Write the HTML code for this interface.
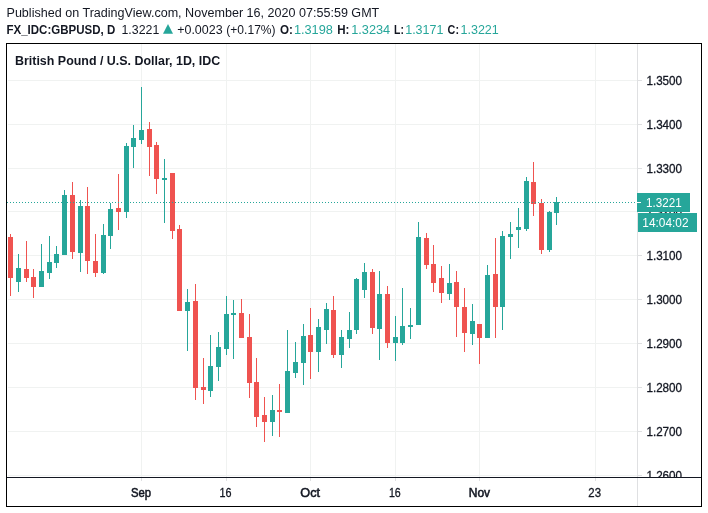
<!DOCTYPE html>
<html><head><meta charset="utf-8">
<style>
html,body{margin:0;padding:0;background:#fff;}
body{width:708px;height:513px;position:relative;overflow:hidden;}
svg{position:absolute;left:0;top:0;will-change:transform;font-family:"Liberation Sans",sans-serif;}
</style></head><body>
<svg width="708" height="513" viewBox="0 0 708 513">
<defs><clipPath id="pa"><rect x="638" y="44" width="63" height="433"/></clipPath>
<clipPath id="ta"><rect x="7" y="478" width="694" height="28"/></clipPath></defs>
<g shape-rendering="crispEdges">
<rect x="6.5" y="43.5" width="695" height="463" fill="none" stroke="#000" stroke-width="1"/>
<rect x="8" y="80" width="629" height="1" fill="#f0f2f1"/>
<rect x="8" y="124" width="629" height="1" fill="#f0f2f1"/>
<rect x="8" y="168" width="629" height="1" fill="#f0f2f1"/>
<rect x="8" y="211" width="629" height="1" fill="#f0f2f1"/>
<rect x="8" y="255" width="629" height="1" fill="#f0f2f1"/>
<rect x="8" y="299" width="629" height="1" fill="#f0f2f1"/>
<rect x="8" y="343" width="629" height="1" fill="#f0f2f1"/>
<rect x="8" y="387" width="629" height="1" fill="#f0f2f1"/>
<rect x="8" y="431" width="629" height="1" fill="#f0f2f1"/>
<rect x="8" y="475" width="629" height="1" fill="#f0f2f1"/>
<rect x="141" y="44" width="1" height="433" fill="#f0f2f1"/>
<rect x="226" y="44" width="1" height="433" fill="#f0f2f1"/>
<rect x="310" y="44" width="1" height="433" fill="#f0f2f1"/>
<rect x="395" y="44" width="1" height="433" fill="#f0f2f1"/>
<rect x="479" y="44" width="1" height="433" fill="#f0f2f1"/>
<rect x="595" y="44" width="1" height="433" fill="#f0f2f1"/>
<rect x="10" y="234" width="1" height="62" fill="#ef5350"/>
<rect x="8" y="237" width="5" height="41" fill="#ef5350"/>
<rect x="18" y="254" width="1" height="38" fill="#26a69a"/>
<rect x="16" y="268" width="5" height="14" fill="#26a69a"/>
<rect x="26" y="241" width="1" height="41" fill="#ef5350"/>
<rect x="24" y="269" width="5" height="9" fill="#ef5350"/>
<rect x="33" y="269" width="1" height="29" fill="#ef5350"/>
<rect x="31" y="277" width="5" height="10" fill="#ef5350"/>
<rect x="41" y="244" width="1" height="43" fill="#26a69a"/>
<rect x="39" y="271" width="5" height="16" fill="#26a69a"/>
<rect x="49" y="236" width="1" height="43" fill="#26a69a"/>
<rect x="47" y="262" width="5" height="11" fill="#26a69a"/>
<rect x="56" y="246" width="1" height="22" fill="#26a69a"/>
<rect x="54" y="254" width="5" height="9" fill="#26a69a"/>
<rect x="64" y="190" width="1" height="65" fill="#26a69a"/>
<rect x="62" y="195" width="5" height="60" fill="#26a69a"/>
<rect x="72" y="182" width="1" height="77" fill="#ef5350"/>
<rect x="70" y="195" width="5" height="57" fill="#ef5350"/>
<rect x="80" y="200" width="1" height="72" fill="#26a69a"/>
<rect x="78" y="206" width="5" height="47" fill="#26a69a"/>
<rect x="87" y="187" width="1" height="87" fill="#ef5350"/>
<rect x="85" y="206" width="5" height="55" fill="#ef5350"/>
<rect x="95" y="234" width="1" height="43" fill="#ef5350"/>
<rect x="93" y="261" width="5" height="12" fill="#ef5350"/>
<rect x="103" y="224" width="1" height="50" fill="#26a69a"/>
<rect x="101" y="235" width="5" height="38" fill="#26a69a"/>
<rect x="110" y="203" width="1" height="46" fill="#26a69a"/>
<rect x="108" y="209" width="5" height="27" fill="#26a69a"/>
<rect x="118" y="174" width="1" height="56" fill="#ef5350"/>
<rect x="116" y="208" width="5" height="4" fill="#ef5350"/>
<rect x="126" y="143" width="1" height="75" fill="#26a69a"/>
<rect x="124" y="146" width="5" height="66" fill="#26a69a"/>
<rect x="133" y="125" width="1" height="43" fill="#26a69a"/>
<rect x="131" y="138" width="5" height="9" fill="#26a69a"/>
<rect x="141" y="87" width="1" height="57" fill="#26a69a"/>
<rect x="139" y="130" width="5" height="10" fill="#26a69a"/>
<rect x="149" y="122" width="1" height="54" fill="#ef5350"/>
<rect x="147" y="129" width="5" height="18" fill="#ef5350"/>
<rect x="156" y="142" width="1" height="52" fill="#ef5350"/>
<rect x="154" y="145" width="5" height="34" fill="#ef5350"/>
<rect x="164" y="159" width="1" height="64" fill="#26a69a"/>
<rect x="162" y="178" width="5" height="2" fill="#26a69a"/>
<rect x="172" y="173" width="1" height="66" fill="#ef5350"/>
<rect x="170" y="173" width="5" height="58" fill="#ef5350"/>
<rect x="179" y="225" width="1" height="86" fill="#ef5350"/>
<rect x="177" y="229" width="5" height="82" fill="#ef5350"/>
<rect x="187" y="289" width="1" height="62" fill="#26a69a"/>
<rect x="185" y="302" width="5" height="9" fill="#26a69a"/>
<rect x="195" y="284" width="1" height="116" fill="#ef5350"/>
<rect x="193" y="301" width="5" height="87" fill="#ef5350"/>
<rect x="203" y="358" width="1" height="46" fill="#ef5350"/>
<rect x="201" y="387" width="5" height="3" fill="#ef5350"/>
<rect x="210" y="335" width="1" height="62" fill="#26a69a"/>
<rect x="208" y="366" width="5" height="25" fill="#26a69a"/>
<rect x="218" y="332" width="1" height="49" fill="#26a69a"/>
<rect x="216" y="347" width="5" height="20" fill="#26a69a"/>
<rect x="226" y="296" width="1" height="59" fill="#26a69a"/>
<rect x="224" y="314" width="5" height="35" fill="#26a69a"/>
<rect x="233" y="300" width="1" height="59" fill="#26a69a"/>
<rect x="231" y="313" width="5" height="2" fill="#26a69a"/>
<rect x="241" y="299" width="1" height="39" fill="#ef5350"/>
<rect x="239" y="313" width="5" height="25" fill="#ef5350"/>
<rect x="249" y="314" width="1" height="84" fill="#ef5350"/>
<rect x="247" y="337" width="5" height="46" fill="#ef5350"/>
<rect x="256" y="358" width="1" height="69" fill="#ef5350"/>
<rect x="254" y="382" width="5" height="35" fill="#ef5350"/>
<rect x="264" y="397" width="1" height="45" fill="#ef5350"/>
<rect x="262" y="415" width="5" height="7" fill="#ef5350"/>
<rect x="272" y="395" width="1" height="41" fill="#26a69a"/>
<rect x="270" y="410" width="5" height="12" fill="#26a69a"/>
<rect x="279" y="384" width="1" height="53" fill="#ef5350"/>
<rect x="277" y="410" width="5" height="2" fill="#ef5350"/>
<rect x="287" y="330" width="1" height="83" fill="#26a69a"/>
<rect x="285" y="371" width="5" height="42" fill="#26a69a"/>
<rect x="295" y="342" width="1" height="36" fill="#26a69a"/>
<rect x="293" y="362" width="5" height="11" fill="#26a69a"/>
<rect x="303" y="324" width="1" height="61" fill="#26a69a"/>
<rect x="301" y="336" width="5" height="27" fill="#26a69a"/>
<rect x="310" y="308" width="1" height="71" fill="#ef5350"/>
<rect x="308" y="335" width="5" height="17" fill="#ef5350"/>
<rect x="318" y="319" width="1" height="53" fill="#26a69a"/>
<rect x="316" y="327" width="5" height="25" fill="#26a69a"/>
<rect x="326" y="303" width="1" height="41" fill="#26a69a"/>
<rect x="324" y="309" width="5" height="21" fill="#26a69a"/>
<rect x="333" y="296" width="1" height="62" fill="#ef5350"/>
<rect x="331" y="310" width="5" height="45" fill="#ef5350"/>
<rect x="341" y="330" width="1" height="38" fill="#26a69a"/>
<rect x="339" y="337" width="5" height="18" fill="#26a69a"/>
<rect x="349" y="312" width="1" height="36" fill="#26a69a"/>
<rect x="347" y="330" width="5" height="9" fill="#26a69a"/>
<rect x="356" y="278" width="1" height="56" fill="#26a69a"/>
<rect x="354" y="279" width="5" height="51" fill="#26a69a"/>
<rect x="364" y="263" width="1" height="35" fill="#26a69a"/>
<rect x="362" y="272" width="5" height="18" fill="#26a69a"/>
<rect x="372" y="269" width="1" height="65" fill="#ef5350"/>
<rect x="370" y="272" width="5" height="56" fill="#ef5350"/>
<rect x="379" y="271" width="1" height="89" fill="#26a69a"/>
<rect x="377" y="294" width="5" height="35" fill="#26a69a"/>
<rect x="387" y="286" width="1" height="62" fill="#ef5350"/>
<rect x="385" y="294" width="5" height="49" fill="#ef5350"/>
<rect x="395" y="316" width="1" height="45" fill="#26a69a"/>
<rect x="393" y="337" width="5" height="6" fill="#26a69a"/>
<rect x="402" y="288" width="1" height="57" fill="#26a69a"/>
<rect x="400" y="326" width="5" height="17" fill="#26a69a"/>
<rect x="410" y="308" width="1" height="31" fill="#26a69a"/>
<rect x="408" y="325" width="5" height="2" fill="#26a69a"/>
<rect x="418" y="222" width="1" height="103" fill="#26a69a"/>
<rect x="416" y="237" width="5" height="88" fill="#26a69a"/>
<rect x="426" y="233" width="1" height="36" fill="#ef5350"/>
<rect x="424" y="238" width="5" height="27" fill="#ef5350"/>
<rect x="433" y="245" width="1" height="47" fill="#ef5350"/>
<rect x="431" y="264" width="5" height="19" fill="#ef5350"/>
<rect x="441" y="266" width="1" height="37" fill="#ef5350"/>
<rect x="439" y="278" width="5" height="15" fill="#ef5350"/>
<rect x="449" y="264" width="1" height="36" fill="#26a69a"/>
<rect x="447" y="283" width="5" height="11" fill="#26a69a"/>
<rect x="456" y="271" width="1" height="66" fill="#ef5350"/>
<rect x="454" y="282" width="5" height="25" fill="#ef5350"/>
<rect x="464" y="288" width="1" height="64" fill="#ef5350"/>
<rect x="462" y="307" width="5" height="26" fill="#ef5350"/>
<rect x="472" y="304" width="1" height="41" fill="#26a69a"/>
<rect x="470" y="321" width="5" height="13" fill="#26a69a"/>
<rect x="479" y="324" width="1" height="40" fill="#ef5350"/>
<rect x="477" y="324" width="5" height="14" fill="#ef5350"/>
<rect x="487" y="265" width="1" height="73" fill="#26a69a"/>
<rect x="485" y="275" width="5" height="63" fill="#26a69a"/>
<rect x="495" y="238" width="1" height="100" fill="#ef5350"/>
<rect x="493" y="274" width="5" height="33" fill="#ef5350"/>
<rect x="502" y="231" width="1" height="99" fill="#26a69a"/>
<rect x="500" y="236" width="5" height="71" fill="#26a69a"/>
<rect x="510" y="222" width="1" height="37" fill="#26a69a"/>
<rect x="508" y="234" width="5" height="3" fill="#26a69a"/>
<rect x="518" y="208" width="1" height="40" fill="#26a69a"/>
<rect x="516" y="227" width="5" height="3" fill="#26a69a"/>
<rect x="526" y="177" width="1" height="54" fill="#26a69a"/>
<rect x="524" y="181" width="5" height="48" fill="#26a69a"/>
<rect x="533" y="162" width="1" height="54" fill="#ef5350"/>
<rect x="531" y="182" width="5" height="22" fill="#ef5350"/>
<rect x="541" y="199" width="1" height="55" fill="#ef5350"/>
<rect x="539" y="203" width="5" height="47" fill="#ef5350"/>
<rect x="549" y="211" width="1" height="41" fill="#26a69a"/>
<rect x="547" y="212" width="5" height="38" fill="#26a69a"/>
<rect x="556" y="197" width="1" height="28" fill="#26a69a"/>
<rect x="554" y="202" width="5" height="11" fill="#26a69a"/>
<rect x="7" y="202" width="1" height="1" fill="#26a69a"/><rect x="10" y="202" width="1" height="1" fill="#26a69a"/><rect x="13" y="202" width="1" height="1" fill="#26a69a"/><rect x="16" y="202" width="1" height="1" fill="#26a69a"/><rect x="19" y="202" width="1" height="1" fill="#26a69a"/><rect x="22" y="202" width="1" height="1" fill="#26a69a"/><rect x="25" y="202" width="1" height="1" fill="#26a69a"/><rect x="28" y="202" width="1" height="1" fill="#26a69a"/><rect x="31" y="202" width="1" height="1" fill="#26a69a"/><rect x="34" y="202" width="1" height="1" fill="#26a69a"/><rect x="37" y="202" width="1" height="1" fill="#26a69a"/><rect x="40" y="202" width="1" height="1" fill="#26a69a"/><rect x="43" y="202" width="1" height="1" fill="#26a69a"/><rect x="46" y="202" width="1" height="1" fill="#26a69a"/><rect x="49" y="202" width="1" height="1" fill="#26a69a"/><rect x="52" y="202" width="1" height="1" fill="#26a69a"/><rect x="55" y="202" width="1" height="1" fill="#26a69a"/><rect x="58" y="202" width="1" height="1" fill="#26a69a"/><rect x="61" y="202" width="1" height="1" fill="#26a69a"/><rect x="64" y="202" width="1" height="1" fill="#26a69a"/><rect x="67" y="202" width="1" height="1" fill="#26a69a"/><rect x="70" y="202" width="1" height="1" fill="#26a69a"/><rect x="73" y="202" width="1" height="1" fill="#26a69a"/><rect x="76" y="202" width="1" height="1" fill="#26a69a"/><rect x="79" y="202" width="1" height="1" fill="#26a69a"/><rect x="82" y="202" width="1" height="1" fill="#26a69a"/><rect x="85" y="202" width="1" height="1" fill="#26a69a"/><rect x="88" y="202" width="1" height="1" fill="#26a69a"/><rect x="91" y="202" width="1" height="1" fill="#26a69a"/><rect x="94" y="202" width="1" height="1" fill="#26a69a"/><rect x="97" y="202" width="1" height="1" fill="#26a69a"/><rect x="100" y="202" width="1" height="1" fill="#26a69a"/><rect x="103" y="202" width="1" height="1" fill="#26a69a"/><rect x="106" y="202" width="1" height="1" fill="#26a69a"/><rect x="109" y="202" width="1" height="1" fill="#26a69a"/><rect x="112" y="202" width="1" height="1" fill="#26a69a"/><rect x="115" y="202" width="1" height="1" fill="#26a69a"/><rect x="118" y="202" width="1" height="1" fill="#26a69a"/><rect x="121" y="202" width="1" height="1" fill="#26a69a"/><rect x="124" y="202" width="1" height="1" fill="#26a69a"/><rect x="127" y="202" width="1" height="1" fill="#26a69a"/><rect x="130" y="202" width="1" height="1" fill="#26a69a"/><rect x="133" y="202" width="1" height="1" fill="#26a69a"/><rect x="136" y="202" width="1" height="1" fill="#26a69a"/><rect x="139" y="202" width="1" height="1" fill="#26a69a"/><rect x="142" y="202" width="1" height="1" fill="#26a69a"/><rect x="145" y="202" width="1" height="1" fill="#26a69a"/><rect x="148" y="202" width="1" height="1" fill="#26a69a"/><rect x="151" y="202" width="1" height="1" fill="#26a69a"/><rect x="154" y="202" width="1" height="1" fill="#26a69a"/><rect x="157" y="202" width="1" height="1" fill="#26a69a"/><rect x="160" y="202" width="1" height="1" fill="#26a69a"/><rect x="163" y="202" width="1" height="1" fill="#26a69a"/><rect x="166" y="202" width="1" height="1" fill="#26a69a"/><rect x="169" y="202" width="1" height="1" fill="#26a69a"/><rect x="172" y="202" width="1" height="1" fill="#26a69a"/><rect x="175" y="202" width="1" height="1" fill="#26a69a"/><rect x="178" y="202" width="1" height="1" fill="#26a69a"/><rect x="181" y="202" width="1" height="1" fill="#26a69a"/><rect x="184" y="202" width="1" height="1" fill="#26a69a"/><rect x="187" y="202" width="1" height="1" fill="#26a69a"/><rect x="190" y="202" width="1" height="1" fill="#26a69a"/><rect x="193" y="202" width="1" height="1" fill="#26a69a"/><rect x="196" y="202" width="1" height="1" fill="#26a69a"/><rect x="199" y="202" width="1" height="1" fill="#26a69a"/><rect x="202" y="202" width="1" height="1" fill="#26a69a"/><rect x="205" y="202" width="1" height="1" fill="#26a69a"/><rect x="208" y="202" width="1" height="1" fill="#26a69a"/><rect x="211" y="202" width="1" height="1" fill="#26a69a"/><rect x="214" y="202" width="1" height="1" fill="#26a69a"/><rect x="217" y="202" width="1" height="1" fill="#26a69a"/><rect x="220" y="202" width="1" height="1" fill="#26a69a"/><rect x="223" y="202" width="1" height="1" fill="#26a69a"/><rect x="226" y="202" width="1" height="1" fill="#26a69a"/><rect x="229" y="202" width="1" height="1" fill="#26a69a"/><rect x="232" y="202" width="1" height="1" fill="#26a69a"/><rect x="235" y="202" width="1" height="1" fill="#26a69a"/><rect x="238" y="202" width="1" height="1" fill="#26a69a"/><rect x="241" y="202" width="1" height="1" fill="#26a69a"/><rect x="244" y="202" width="1" height="1" fill="#26a69a"/><rect x="247" y="202" width="1" height="1" fill="#26a69a"/><rect x="250" y="202" width="1" height="1" fill="#26a69a"/><rect x="253" y="202" width="1" height="1" fill="#26a69a"/><rect x="256" y="202" width="1" height="1" fill="#26a69a"/><rect x="259" y="202" width="1" height="1" fill="#26a69a"/><rect x="262" y="202" width="1" height="1" fill="#26a69a"/><rect x="265" y="202" width="1" height="1" fill="#26a69a"/><rect x="268" y="202" width="1" height="1" fill="#26a69a"/><rect x="271" y="202" width="1" height="1" fill="#26a69a"/><rect x="274" y="202" width="1" height="1" fill="#26a69a"/><rect x="277" y="202" width="1" height="1" fill="#26a69a"/><rect x="280" y="202" width="1" height="1" fill="#26a69a"/><rect x="283" y="202" width="1" height="1" fill="#26a69a"/><rect x="286" y="202" width="1" height="1" fill="#26a69a"/><rect x="289" y="202" width="1" height="1" fill="#26a69a"/><rect x="292" y="202" width="1" height="1" fill="#26a69a"/><rect x="295" y="202" width="1" height="1" fill="#26a69a"/><rect x="298" y="202" width="1" height="1" fill="#26a69a"/><rect x="301" y="202" width="1" height="1" fill="#26a69a"/><rect x="304" y="202" width="1" height="1" fill="#26a69a"/><rect x="307" y="202" width="1" height="1" fill="#26a69a"/><rect x="310" y="202" width="1" height="1" fill="#26a69a"/><rect x="313" y="202" width="1" height="1" fill="#26a69a"/><rect x="316" y="202" width="1" height="1" fill="#26a69a"/><rect x="319" y="202" width="1" height="1" fill="#26a69a"/><rect x="322" y="202" width="1" height="1" fill="#26a69a"/><rect x="325" y="202" width="1" height="1" fill="#26a69a"/><rect x="328" y="202" width="1" height="1" fill="#26a69a"/><rect x="331" y="202" width="1" height="1" fill="#26a69a"/><rect x="334" y="202" width="1" height="1" fill="#26a69a"/><rect x="337" y="202" width="1" height="1" fill="#26a69a"/><rect x="340" y="202" width="1" height="1" fill="#26a69a"/><rect x="343" y="202" width="1" height="1" fill="#26a69a"/><rect x="346" y="202" width="1" height="1" fill="#26a69a"/><rect x="349" y="202" width="1" height="1" fill="#26a69a"/><rect x="352" y="202" width="1" height="1" fill="#26a69a"/><rect x="355" y="202" width="1" height="1" fill="#26a69a"/><rect x="358" y="202" width="1" height="1" fill="#26a69a"/><rect x="361" y="202" width="1" height="1" fill="#26a69a"/><rect x="364" y="202" width="1" height="1" fill="#26a69a"/><rect x="367" y="202" width="1" height="1" fill="#26a69a"/><rect x="370" y="202" width="1" height="1" fill="#26a69a"/><rect x="373" y="202" width="1" height="1" fill="#26a69a"/><rect x="376" y="202" width="1" height="1" fill="#26a69a"/><rect x="379" y="202" width="1" height="1" fill="#26a69a"/><rect x="382" y="202" width="1" height="1" fill="#26a69a"/><rect x="385" y="202" width="1" height="1" fill="#26a69a"/><rect x="388" y="202" width="1" height="1" fill="#26a69a"/><rect x="391" y="202" width="1" height="1" fill="#26a69a"/><rect x="394" y="202" width="1" height="1" fill="#26a69a"/><rect x="397" y="202" width="1" height="1" fill="#26a69a"/><rect x="400" y="202" width="1" height="1" fill="#26a69a"/><rect x="403" y="202" width="1" height="1" fill="#26a69a"/><rect x="406" y="202" width="1" height="1" fill="#26a69a"/><rect x="409" y="202" width="1" height="1" fill="#26a69a"/><rect x="412" y="202" width="1" height="1" fill="#26a69a"/><rect x="415" y="202" width="1" height="1" fill="#26a69a"/><rect x="418" y="202" width="1" height="1" fill="#26a69a"/><rect x="421" y="202" width="1" height="1" fill="#26a69a"/><rect x="424" y="202" width="1" height="1" fill="#26a69a"/><rect x="427" y="202" width="1" height="1" fill="#26a69a"/><rect x="430" y="202" width="1" height="1" fill="#26a69a"/><rect x="433" y="202" width="1" height="1" fill="#26a69a"/><rect x="436" y="202" width="1" height="1" fill="#26a69a"/><rect x="439" y="202" width="1" height="1" fill="#26a69a"/><rect x="442" y="202" width="1" height="1" fill="#26a69a"/><rect x="445" y="202" width="1" height="1" fill="#26a69a"/><rect x="448" y="202" width="1" height="1" fill="#26a69a"/><rect x="451" y="202" width="1" height="1" fill="#26a69a"/><rect x="454" y="202" width="1" height="1" fill="#26a69a"/><rect x="457" y="202" width="1" height="1" fill="#26a69a"/><rect x="460" y="202" width="1" height="1" fill="#26a69a"/><rect x="463" y="202" width="1" height="1" fill="#26a69a"/><rect x="466" y="202" width="1" height="1" fill="#26a69a"/><rect x="469" y="202" width="1" height="1" fill="#26a69a"/><rect x="472" y="202" width="1" height="1" fill="#26a69a"/><rect x="475" y="202" width="1" height="1" fill="#26a69a"/><rect x="478" y="202" width="1" height="1" fill="#26a69a"/><rect x="481" y="202" width="1" height="1" fill="#26a69a"/><rect x="484" y="202" width="1" height="1" fill="#26a69a"/><rect x="487" y="202" width="1" height="1" fill="#26a69a"/><rect x="490" y="202" width="1" height="1" fill="#26a69a"/><rect x="493" y="202" width="1" height="1" fill="#26a69a"/><rect x="496" y="202" width="1" height="1" fill="#26a69a"/><rect x="499" y="202" width="1" height="1" fill="#26a69a"/><rect x="502" y="202" width="1" height="1" fill="#26a69a"/><rect x="505" y="202" width="1" height="1" fill="#26a69a"/><rect x="508" y="202" width="1" height="1" fill="#26a69a"/><rect x="511" y="202" width="1" height="1" fill="#26a69a"/><rect x="514" y="202" width="1" height="1" fill="#26a69a"/><rect x="517" y="202" width="1" height="1" fill="#26a69a"/><rect x="520" y="202" width="1" height="1" fill="#26a69a"/><rect x="523" y="202" width="1" height="1" fill="#26a69a"/><rect x="526" y="202" width="1" height="1" fill="#26a69a"/><rect x="529" y="202" width="1" height="1" fill="#26a69a"/><rect x="532" y="202" width="1" height="1" fill="#26a69a"/><rect x="535" y="202" width="1" height="1" fill="#26a69a"/><rect x="538" y="202" width="1" height="1" fill="#26a69a"/><rect x="541" y="202" width="1" height="1" fill="#26a69a"/><rect x="544" y="202" width="1" height="1" fill="#26a69a"/><rect x="547" y="202" width="1" height="1" fill="#26a69a"/><rect x="550" y="202" width="1" height="1" fill="#26a69a"/><rect x="553" y="202" width="1" height="1" fill="#26a69a"/><rect x="556" y="202" width="1" height="1" fill="#26a69a"/><rect x="559" y="202" width="1" height="1" fill="#26a69a"/><rect x="562" y="202" width="1" height="1" fill="#26a69a"/><rect x="565" y="202" width="1" height="1" fill="#26a69a"/><rect x="568" y="202" width="1" height="1" fill="#26a69a"/><rect x="571" y="202" width="1" height="1" fill="#26a69a"/><rect x="574" y="202" width="1" height="1" fill="#26a69a"/><rect x="577" y="202" width="1" height="1" fill="#26a69a"/><rect x="580" y="202" width="1" height="1" fill="#26a69a"/><rect x="583" y="202" width="1" height="1" fill="#26a69a"/><rect x="586" y="202" width="1" height="1" fill="#26a69a"/><rect x="589" y="202" width="1" height="1" fill="#26a69a"/><rect x="592" y="202" width="1" height="1" fill="#26a69a"/><rect x="595" y="202" width="1" height="1" fill="#26a69a"/><rect x="598" y="202" width="1" height="1" fill="#26a69a"/><rect x="601" y="202" width="1" height="1" fill="#26a69a"/><rect x="604" y="202" width="1" height="1" fill="#26a69a"/><rect x="607" y="202" width="1" height="1" fill="#26a69a"/><rect x="610" y="202" width="1" height="1" fill="#26a69a"/><rect x="613" y="202" width="1" height="1" fill="#26a69a"/><rect x="616" y="202" width="1" height="1" fill="#26a69a"/><rect x="619" y="202" width="1" height="1" fill="#26a69a"/><rect x="622" y="202" width="1" height="1" fill="#26a69a"/><rect x="625" y="202" width="1" height="1" fill="#26a69a"/><rect x="628" y="202" width="1" height="1" fill="#26a69a"/><rect x="631" y="202" width="1" height="1" fill="#26a69a"/><rect x="634" y="202" width="1" height="1" fill="#26a69a"/>
<rect x="637" y="44" width="1" height="433" fill="#dfe0e2"/>
<rect x="7" y="477" width="694" height="1" fill="#131722"/>
</g>
<g clip-path="url(#pa)">
<rect x="638" y="80" width="4" height="1" fill="#dfe0e2"/>
<text x="646.40" y="85" font-size="12" font-weight="normal" fill="#131722" stroke="#131722" stroke-width="0.3" textLength="35.70" lengthAdjust="spacingAndGlyphs">1.3500</text>
<rect x="638" y="124" width="4" height="1" fill="#dfe0e2"/>
<text x="646.40" y="129" font-size="12" font-weight="normal" fill="#131722" stroke="#131722" stroke-width="0.3" textLength="35.70" lengthAdjust="spacingAndGlyphs">1.3400</text>
<rect x="638" y="168" width="4" height="1" fill="#dfe0e2"/>
<text x="646.40" y="173" font-size="12" font-weight="normal" fill="#131722" stroke="#131722" stroke-width="0.3" textLength="35.70" lengthAdjust="spacingAndGlyphs">1.3300</text>
<rect x="638" y="211" width="4" height="1" fill="#dfe0e2"/>
<text x="646.40" y="216" font-size="12" font-weight="normal" fill="#131722" stroke="#131722" stroke-width="0.3" textLength="35.70" lengthAdjust="spacingAndGlyphs">1.3200</text>
<rect x="638" y="255" width="4" height="1" fill="#dfe0e2"/>
<text x="646.40" y="260" font-size="12" font-weight="normal" fill="#131722" stroke="#131722" stroke-width="0.3" textLength="35.70" lengthAdjust="spacingAndGlyphs">1.3100</text>
<rect x="638" y="299" width="4" height="1" fill="#dfe0e2"/>
<text x="646.40" y="304" font-size="12" font-weight="normal" fill="#131722" stroke="#131722" stroke-width="0.3" textLength="35.70" lengthAdjust="spacingAndGlyphs">1.3000</text>
<rect x="638" y="343" width="4" height="1" fill="#dfe0e2"/>
<text x="646.40" y="348" font-size="12" font-weight="normal" fill="#131722" stroke="#131722" stroke-width="0.3" textLength="35.70" lengthAdjust="spacingAndGlyphs">1.2900</text>
<rect x="638" y="387" width="4" height="1" fill="#dfe0e2"/>
<text x="646.40" y="392" font-size="12" font-weight="normal" fill="#131722" stroke="#131722" stroke-width="0.3" textLength="35.70" lengthAdjust="spacingAndGlyphs">1.2800</text>
<rect x="638" y="431" width="4" height="1" fill="#dfe0e2"/>
<text x="646.40" y="436" font-size="12" font-weight="normal" fill="#131722" stroke="#131722" stroke-width="0.3" textLength="35.70" lengthAdjust="spacingAndGlyphs">1.2700</text>
<rect x="638" y="475" width="4" height="1" fill="#dfe0e2"/>
<text x="646.40" y="480" font-size="12" font-weight="normal" fill="#131722" stroke="#131722" stroke-width="0.3" textLength="35.70" lengthAdjust="spacingAndGlyphs">1.2600</text>
</g>
<g shape-rendering="crispEdges">
<rect x="637" y="193" width="53" height="19" fill="#26a69a"/>
<rect x="637" y="202" width="4" height="1" fill="#fff"/>
<rect x="638" y="213" width="59" height="19" fill="#26a69a"/>
</g>
<text x="646.10" y="207" font-size="12" font-weight="normal" fill="#fff" textLength="35.60" lengthAdjust="spacingAndGlyphs">1.3221</text>
<text x="642.30" y="227" font-size="12" font-weight="normal" fill="#fff" textLength="46.20" lengthAdjust="spacingAndGlyphs">14:04:02</text>
<g shape-rendering="crispEdges">
<rect x="141" y="478" width="1" height="3" fill="#dfe0e2"/><rect x="226" y="478" width="1" height="3" fill="#dfe0e2"/><rect x="310" y="478" width="1" height="3" fill="#dfe0e2"/><rect x="395" y="478" width="1" height="3" fill="#dfe0e2"/><rect x="479" y="478" width="1" height="3" fill="#dfe0e2"/><rect x="595" y="478" width="1" height="3" fill="#dfe0e2"/>
<rect x="637" y="478" width="1" height="28" fill="#dfe0e2"/>
</g>
<text x="6.50" y="17" font-size="12.5" font-weight="normal" fill="#131722" textLength="372.80" lengthAdjust="spacingAndGlyphs">Published on TradingView.com, November 16, 2020 07:55:59 GMT</text>
<text x="6.50" y="34" font-size="12.5" font-weight="bold" fill="#131722" textLength="108.70" lengthAdjust="spacingAndGlyphs">FX_IDC:GBPUSD, D</text>
<text x="121.50" y="34" font-size="12.5" font-weight="normal" fill="#131722" textLength="37.80" lengthAdjust="spacingAndGlyphs">1.3221</text>
<text x="177.20" y="34" font-size="12.5" font-weight="normal" fill="#131722" textLength="45.40" lengthAdjust="spacingAndGlyphs">+0.0023</text>
<text x="226.30" y="34" font-size="12.5" font-weight="normal" fill="#131722" textLength="49.30" lengthAdjust="spacingAndGlyphs">(+0.17%)</text>
<text x="280.10" y="34" font-size="12.5" font-weight="bold" fill="#131722" textLength="12.90" lengthAdjust="spacingAndGlyphs">O:</text>
<text x="293.90" y="34" font-size="12.5" font-weight="normal" fill="#26a69a" textLength="39.00" lengthAdjust="spacingAndGlyphs">1.3198</text>
<text x="337.20" y="34" font-size="12.5" font-weight="bold" fill="#131722" textLength="12.20" lengthAdjust="spacingAndGlyphs">H:</text>
<text x="351.20" y="34" font-size="12.5" font-weight="normal" fill="#26a69a" textLength="39.00" lengthAdjust="spacingAndGlyphs">1.3234</text>
<text x="394.10" y="34" font-size="12.5" font-weight="bold" fill="#131722" textLength="9.80" lengthAdjust="spacingAndGlyphs">L:</text>
<text x="405.20" y="34" font-size="12.5" font-weight="normal" fill="#26a69a" textLength="38.20" lengthAdjust="spacingAndGlyphs">1.3171</text>
<text x="447.60" y="34" font-size="12.5" font-weight="bold" fill="#131722" textLength="11.40" lengthAdjust="spacingAndGlyphs">C:</text>
<text x="460.50" y="34" font-size="12.5" font-weight="normal" fill="#26a69a" textLength="38.30" lengthAdjust="spacingAndGlyphs">1.3221</text>
<text x="15.00" y="65" font-size="12.5" font-weight="bold" fill="#131722" textLength="205.20" lengthAdjust="spacingAndGlyphs">British Pound / U.S. Dollar, 1D, IDC</text>
<text x="130.90" y="497" font-size="12.5" font-weight="normal" fill="#131722" stroke="#131722" stroke-width="0.55" textLength="20.10" lengthAdjust="spacingAndGlyphs">Sep</text>
<text x="219.50" y="497" font-size="12.5" font-weight="normal" fill="#131722" stroke="#131722" stroke-width="0.3" textLength="12.00" lengthAdjust="spacingAndGlyphs">16</text>
<text x="300.30" y="497" font-size="12.5" font-weight="normal" fill="#131722" stroke="#131722" stroke-width="0.55" textLength="19.70" lengthAdjust="spacingAndGlyphs">Oct</text>
<text x="388.90" y="497" font-size="12.5" font-weight="normal" fill="#131722" stroke="#131722" stroke-width="0.3" textLength="11.80" lengthAdjust="spacingAndGlyphs">16</text>
<text x="468.70" y="497" font-size="12.5" font-weight="normal" fill="#131722" stroke="#131722" stroke-width="0.55" textLength="21.40" lengthAdjust="spacingAndGlyphs">Nov</text>
<text x="588.30" y="497" font-size="12.5" font-weight="normal" fill="#131722" stroke="#131722" stroke-width="0.3" textLength="12.70" lengthAdjust="spacingAndGlyphs">23</text>
<path d="M163 33.8 L168 24 L173 33.8 Z" fill="#26a69a"/>
</svg>
</body></html>
